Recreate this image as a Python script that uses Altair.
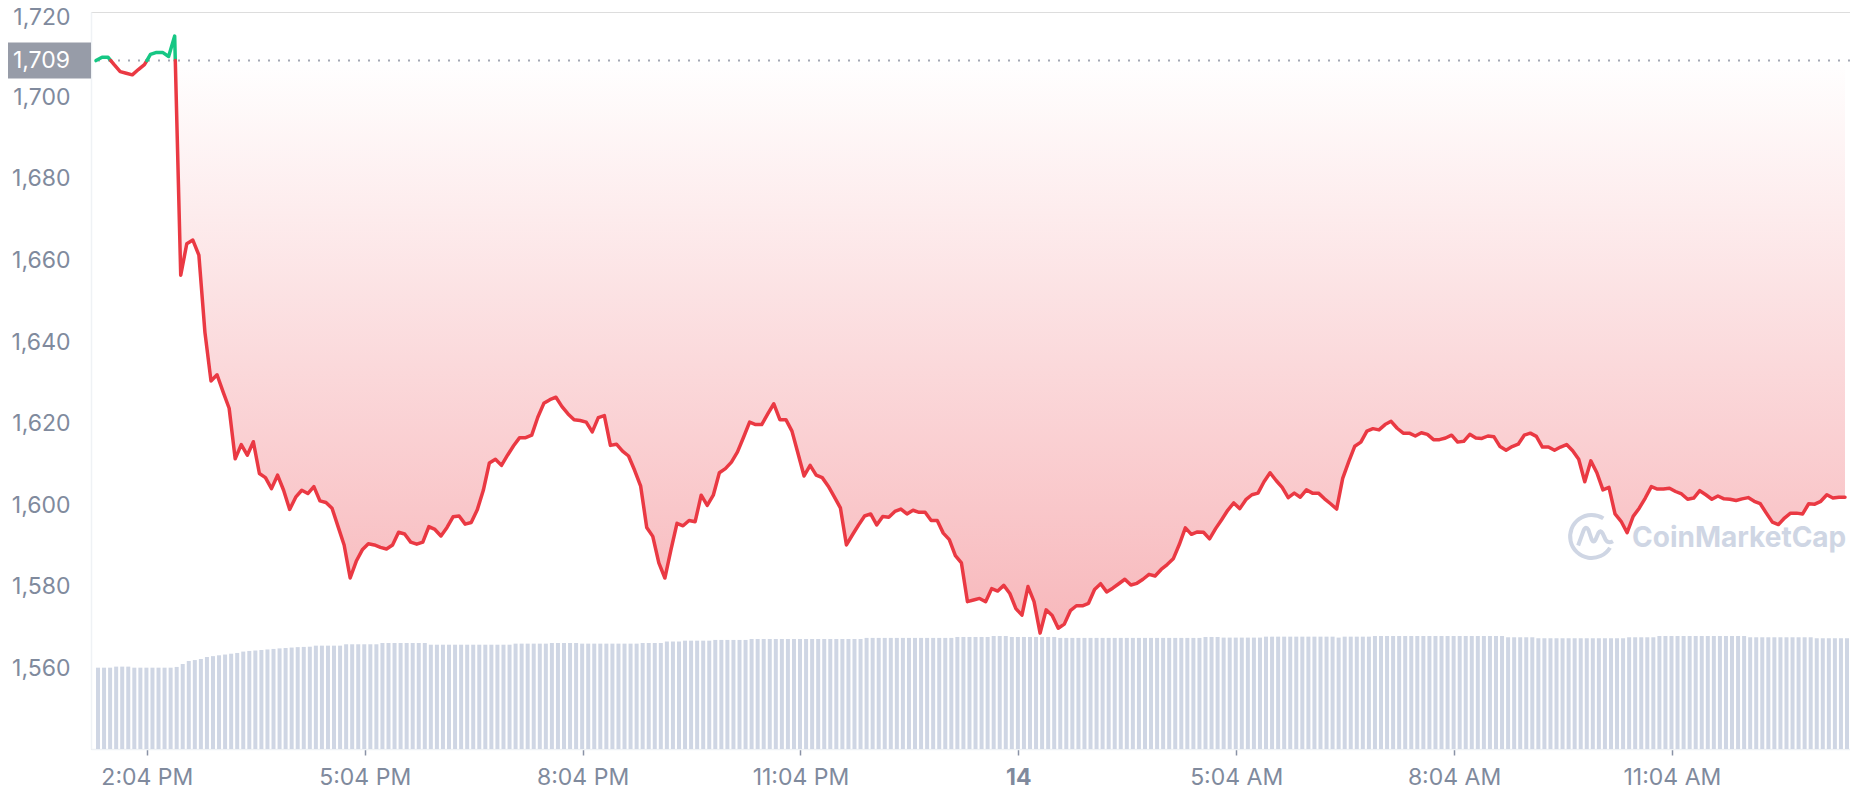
import altair as alt
import pandas as pd

# ---------------- data ----------------
BASE_PRICE = 1709          # opening price of the 24h window (dotted reference line)
STEP_MIN = 5               # one sample every 5 minutes

PRICE = [
    1709, 1709.8, 1709.8, 1708, 1706.3, 1705.9, 1705.5, 1706.8, 1708, 1710.5,
    1711, 1711, 1710, 1715, 1656.4, 1664.1, 1665, 1661.3, 1642.4, 1630.5,
    1632, 1627.8, 1623.8, 1611.4, 1614.9, 1612.3, 1615.6, 1607.8, 1606.8, 1604.1,
    1607.4, 1603.7, 1599, 1602, 1603.7, 1602.9, 1604.6, 1601.1, 1600.7, 1599.3,
    1594.8, 1590.3, 1582.2, 1586.3, 1589.1, 1590.6, 1590.3, 1589.7, 1589.3, 1590.3,
    1593.4, 1593, 1591, 1590.5, 1591, 1594.8, 1594.1, 1592.5, 1594.6, 1597.2,
    1597.4, 1595.4, 1595.8, 1598.9, 1603.7, 1610.4, 1611.3, 1609.8, 1612.3, 1614.6,
    1616.6, 1616.6, 1617.2, 1621.6, 1625, 1625.9, 1626.5, 1624.2, 1622.4, 1621,
    1620.8, 1620.4, 1618, 1621.5, 1622, 1614.7, 1615, 1613.3, 1612.1, 1608.6,
    1604.7, 1594.6, 1592.4, 1585.9, 1582.2, 1589.1, 1595.6, 1595, 1596.3, 1596,
    1602.5, 1600, 1602.5, 1608, 1609, 1610.6, 1613.1, 1616.7, 1620.4, 1619.8,
    1619.8, 1622.4, 1624.9, 1621, 1621, 1618.2, 1612.7, 1607.2, 1609.8, 1607.4,
    1606.8, 1604.7, 1602.1, 1599.4, 1590.3, 1592.8, 1595.2, 1597.4, 1597.9, 1595.2,
    1597.3, 1597.1, 1598.5, 1599.1, 1597.9, 1598.8, 1598.3, 1598.3, 1596.3, 1596.3,
    1593.2, 1591.6, 1587.7, 1585.9, 1576.4, 1576.8, 1577.2, 1576.4, 1579.6, 1579,
    1580.4, 1578.4, 1574.7, 1573.1, 1580.1, 1576.4, 1568.7, 1574.4, 1573, 1569.9,
    1570.9, 1574.2, 1575.4, 1575.4, 1576, 1579.4, 1580.8, 1578.8, 1579.7, 1580.8,
    1581.9, 1580.5, 1580.9, 1581.9, 1583.1, 1582.7, 1584.3, 1585.5, 1586.9, 1590.4,
    1594.5, 1592.9, 1593.5, 1593.4, 1591.8, 1594.3, 1596.5, 1598.8, 1600.6, 1599.2,
    1601.4, 1602.6, 1603, 1605.8, 1608, 1606.1, 1604.4, 1601.9, 1603, 1602,
    1603.8, 1603, 1603, 1601.6, 1600.4, 1599.1, 1606.6, 1610.7, 1614.5, 1615.5,
    1618.2, 1618.8, 1618.5, 1619.8, 1620.6, 1618.9, 1617.7, 1617.7, 1617, 1617.8,
    1617.4, 1616.1, 1616.1, 1616.5, 1617.2, 1615.5, 1615.7, 1617.4, 1616.5, 1616.4,
    1617, 1616.8, 1614.4, 1613.5, 1614.4, 1615, 1617.2, 1617.7, 1616.9, 1614.3,
    1614.3, 1613.5, 1614.3, 1614.9, 1613.4, 1611.3, 1605.8, 1610.9, 1608, 1603.8,
    1604.4, 1597.9, 1596.1, 1593.3, 1597.3, 1599.3, 1601.8, 1604.6, 1604, 1604,
    1604.2, 1603.4, 1602.8, 1601.5, 1601.8, 1603.6, 1602.6, 1601.5, 1602.3, 1601.6,
    1601.5, 1601.2, 1601.6, 1601.9, 1601, 1600.4, 1598.1, 1595.9, 1595.3, 1596.9,
    1598.1, 1598.1, 1597.9, 1600.4, 1600.3, 1601, 1602.6, 1601.8, 1602, 1602,
]

# 24h volume (relative units) as (value, number of consecutive samples)
VOLUME_RUNS = [
    (7.68, 3), (7.78, 3), (7.68, 7), (7.75, 1), (8.03, 1),
    (8.31, 1), (8.40, 1), (8.50, 1), (8.69, 1), (8.77, 1), (8.85, 1), (8.92, 1),
    (9.00, 1), (9.07, 1), (9.20, 1), (9.26, 1), (9.30, 1), (9.35, 1), (9.40, 1),
    (9.45, 1), (9.50, 1), (9.54, 1), (9.58, 1), (9.62, 1), (9.64, 1), (9.66, 1),
    (9.76, 5), (9.89, 6), (10.01, 8), (9.85, 14), (9.95, 6), (10.01, 5),
    (9.95, 10), (10.01, 4), (10.15, 3), (10.23, 5), (10.30, 6), (10.39, 19),
    (10.49, 15), (10.58, 6), (10.67, 3), (10.58, 8), (10.49, 24), (10.58, 3),
    (10.52, 7), (10.61, 12), (10.52, 1), (10.61, 5), (10.67, 22), (10.55, 5),
    (10.46, 15), (10.55, 5), (10.67, 15), (10.55, 11), (10.46, 6),
]

TICK_MINUTES = [42, 222, 402, 582, 762, 942, 1122, 1302]
TICK_LABELS = ["2:04 PM", "5:04 PM", "8:04 PM", "11:04 PM", "14", "5:04 AM", "8:04 AM", "11:04 AM"]
DAY_TICK = "14"

Y_TICKS = [1560, 1580, 1600, 1620, 1640, 1660, 1680, 1700, 1720]
Y_DOMAIN = [1540.3, 1720.9]
VOL_DOMAIN = [0, 69.6]

WATERMARK = "CoinMarketCap"

# ---------------- colours / style ----------------
RED = "#ea3943"
GREEN = "#16c784"
GREY_TXT = "#808a9d"
GRID = "#eff2f5"
VOL_COL = "#cfd6e4"
FONT = "Inter"
FS = 23

W, H = 1759, 737
TOP = 4

# ---------------- table building ----------------
volume = [v for v, n in VOLUME_RUNS for _ in range(n)]
assert len(volume) == len(PRICE)
minutes = [STEP_MIN * i for i in range(len(PRICE))]
base_df = pd.DataFrame({"minute": minutes, "price": PRICE, "volume": volume})

# points with baseline crossings inserted, so the line switches colour exactly there
pts = []
for i, p in enumerate(PRICE):
    if i > 0:
        q = PRICE[i - 1]
        if (q - BASE_PRICE) * (p - BASE_PRICE) < 0:
            t = (BASE_PRICE - q) / (p - q)
            pts.append((minutes[i - 1] + STEP_MIN * t, float(BASE_PRICE)))
    pts.append((minutes[i], p))

area_df = pd.DataFrame({"minute": [m for m, _ in pts],
                        "low": [min(p, BASE_PRICE) for _, p in pts]})

line_rows, run, prev = [], -1, None
for k in range(len(pts) - 1):
    (m0, p0), (m1, p1) = pts[k], pts[k + 1]
    side = "up" if (p0 + p1) / 2 >= BASE_PRICE else "down"
    if side != prev:
        run += 1
        line_rows.append({"minute": m0, "price": p0, "side": side, "run": run})
        prev = side
    line_rows.append({"minute": m1, "price": p1, "side": side, "run": run})
line_df = pd.DataFrame(line_rows)

one = pd.DataFrame({"label": [f"{BASE_PRICE:,}"], "mark": [WATERMARK]})

# ---------------- encodings ----------------
labels_js = "[" + ",".join(f"'{l}'" for l in TICK_LABELS) + "]"
values_js = "[" + ",".join(str(m) for m in TICK_MINUTES) + "]"
day_value = TICK_MINUTES[TICK_LABELS.index(DAY_TICK)]

x_scale = alt.Scale(domain=[0, minutes[-1]], nice=False, zero=False)
x_axis = alt.Axis(
    values=TICK_MINUTES,
    labelExpr=f"{labels_js}[indexof({values_js}, datum.value)]",
    title=None, grid=False,
    tickSize=6, tickWidth=1.5, tickColor="#8a92a6",
    domainColor=GRID, domainWidth=1.5,
    labelColor=GREY_TXT, labelFontSize=FS, labelFont=FONT, labelPadding=11,
    labelFlush=False, labelOverlap=False,
    labelFontWeight={"condition": {"test": f"datum.value == {day_value}", "value": "bold"},
                     "value": "normal"},
)
X = alt.X("minute:Q", scale=x_scale, axis=x_axis)

y_scale = alt.Scale(domain=Y_DOMAIN, nice=False, zero=False)
y_axis = alt.Axis(
    values=Y_TICKS, format=",d", title=None,
    tickSize=0, labelPadding=21,
    labelColor=GREY_TXT, labelFontSize=FS, labelFont=FONT,
    labelOffset={"condition": {"test": f"datum.value == {max(Y_TICKS)}", "value": 1.5},
                 "value": 0},
    gridColor=GRID, gridWidth=1, domainColor=GRID, domainWidth=1.5,
)

# ---------------- layers ----------------
bars = alt.Chart(base_df).mark_bar(color=VOL_COL, width=4, xOffset=2).encode(
    x=X,
    y=alt.Y("volume:Q", scale=alt.Scale(domain=VOL_DOMAIN), axis=None),
    y2=alt.value(H - 2),
)

area = alt.Chart(area_df).mark_area(
    color=alt.Gradient(
        gradient="linear", x1=0, x2=0, y1=0, y2=1,
        stops=[alt.GradientStop(color="rgba(234,57,67,0)", offset=0),
               alt.GradientStop(color="rgba(234,57,67,0.36)", offset=1)],
    )
).encode(
    x=X,
    y=alt.Y("low:Q", scale=y_scale, axis=y_axis),
    y2=alt.Y2Datum(BASE_PRICE),
)

rule = alt.Chart(one).mark_rule(color="#a3a8b4", strokeWidth=2, strokeDash=[2, 8]).encode(
    y=alt.YDatum(BASE_PRICE)
)

line = alt.Chart(line_df).mark_line(strokeWidth=3.5, strokeJoin="round", strokeCap="round").encode(
    x=X,
    y=alt.Y("price:Q"),
    color=alt.Color("side:N", scale=alt.Scale(domain=["up", "down"], range=[GREEN, RED]), legend=None),
    detail="run:N",
)

box = alt.Chart(one).mark_rect(color="#979ca8", yOffset=-18, y2Offset=18).encode(
    x=alt.value(-83), x2=alt.value(0),
    y=alt.YDatum(BASE_PRICE), y2=alt.Y2Datum(BASE_PRICE),
)
box_text = alt.Chart(one).mark_text(
    align="right", baseline="middle", fontSize=FS, font=FONT, color="white"
).encode(x=alt.value(-21), y=alt.YDatum(BASE_PRICE), text="label:N")

LOGO = ("M0.55,-0.84 A1,1 0 1,0 0.86,0.52 "
        "M-0.62,0.42 L-0.36,-0.3 Q-0.26,-0.52 -0.14,-0.3 L0.0,0.12 Q0.1,0.34 0.2,0.12 "
        "L0.32,-0.16 Q0.42,-0.34 0.52,-0.14 L0.66,0.16 Q0.78,0.34 1.0,0.22")
logo = alt.Chart(one).mark_point(
    shape=LOGO, size=1850, filled=False, strokeWidth=4, color=VOL_COL, opacity=1
).encode(x=alt.value(1500.5), y=alt.value(528.5 - TOP))
wm = alt.Chart(one).mark_text(
    align="left", baseline="alphabetic", fontSize=28, fontWeight="bold", font=FONT, color=VOL_COL
).encode(x=alt.value(1541), y=alt.value(538.7 - TOP), text="mark:N")

price_layer = alt.layer(rule, area, line, box, box_text, logo, wm)

chart = alt.layer(bars, price_layer).resolve_scale(y="independent").properties(
    width=W, height=H,
    autosize=alt.AutoSizeParams(type="none"),
    padding={"left": 83, "top": TOP, "right": 0, "bottom": 40},
    background="white",
).configure_view(stroke=None).configure(font=FONT)

chart.save("out.html", embed_options={"renderer": "svg", "actions": False})
